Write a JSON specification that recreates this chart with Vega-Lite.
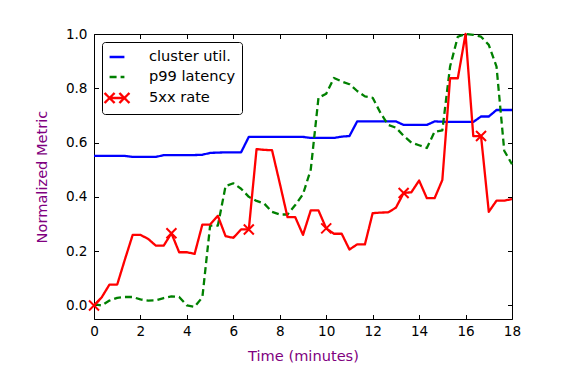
{
  "$schema": "https://vega.github.io/schema/vega-lite/v6.json",
  "width": 418,
  "height": 285,
  "autosize": {"type": "none"},
  "padding": {"left": 94, "top": 34, "right": 54, "bottom": 60},
  "background": "white",
  "config": {
    "font": "DejaVu Sans",
    "view": {"stroke": null},
    "axis": {
      "domainColor": "black", "domainWidth": 1, "tickColor": "black", "tickSize": -4.5, "tickWidth": 1,
      "labelFontSize": 13.6, "labelColor": "black", "labelFont": "DejaVu Sans", "labelFlush": false, "labelOverlap": false,
      "titleFont": "DejaVu Sans", "titleFontSize": 14.6, "titleColor": "#800080", "titleFontWeight": "normal", "grid": false
    },
    "axisBottom": {"labelPadding": 9.5, "titlePadding": 11},
    "axisLeft": {"labelPadding": 11.5, "titlePadding": 16},
    "legend": {
      "orient": "top-left", "offset": 8, "padding": 6, "strokeColor": "black", "strokeWidth": 1, "fillColor": "white",
      "cornerRadius": 3, "labelFontSize": 14.6, "labelFont": "DejaVu Sans", "labelColor": "black", "symbolSize": 220,
      "symbolStrokeWidth": 2.3, "symbolType": "stroke", "labelOffset": 23, "rowPadding": 4, "labelLimit": 300, "title": null
    }
  },
  "data": {"values": [
    {"t": 0, "u": 0.551, "p": 0.005, "r": 0.0, "m": 1},
    {"t": 0.3333, "u": 0.551, "p": 0.0, "r": 0.03},
    {"t": 0.6667, "u": 0.551, "p": 0.018, "r": 0.077},
    {"t": 1, "u": 0.551, "p": 0.028, "r": 0.077},
    {"t": 1.3333, "u": 0.551, "p": 0.031, "r": 0.17},
    {"t": 1.6667, "u": 0.547, "p": 0.031, "r": 0.26},
    {"t": 2, "u": 0.547, "p": 0.022, "r": 0.26},
    {"t": 2.3333, "u": 0.547, "p": 0.018, "r": 0.245},
    {"t": 2.6667, "u": 0.547, "p": 0.019, "r": 0.22},
    {"t": 3, "u": 0.554, "p": 0.027, "r": 0.22},
    {"t": 3.3333, "u": 0.554, "p": 0.033, "r": 0.266, "m": 1},
    {"t": 3.6667, "u": 0.554, "p": 0.031, "r": 0.196},
    {"t": 4, "u": 0.554, "p": 0.0, "r": 0.196},
    {"t": 4.3333, "u": 0.554, "p": -0.005, "r": 0.19},
    {"t": 4.6667, "u": 0.555, "p": 0.03, "r": 0.298},
    {"t": 5, "u": 0.562, "p": 0.294, "r": 0.298},
    {"t": 5.3333, "u": 0.563, "p": 0.294, "r": 0.33},
    {"t": 5.6667, "u": 0.564, "p": 0.44, "r": 0.255},
    {"t": 6, "u": 0.564, "p": 0.45, "r": 0.249},
    {"t": 6.3333, "u": 0.564, "p": 0.43, "r": 0.28},
    {"t": 6.6667, "u": 0.621, "p": 0.4, "r": 0.28, "m": 1},
    {"t": 7, "u": 0.621, "p": 0.385, "r": 0.576},
    {"t": 7.3333, "u": 0.621, "p": 0.375, "r": 0.573},
    {"t": 7.6667, "u": 0.621, "p": 0.345, "r": 0.572},
    {"t": 8, "u": 0.621, "p": 0.335, "r": 0.45},
    {"t": 8.3333, "u": 0.621, "p": 0.335, "r": 0.325},
    {"t": 8.6667, "u": 0.621, "p": 0.37, "r": 0.325},
    {"t": 9, "u": 0.621, "p": 0.41, "r": 0.26},
    {"t": 9.3333, "u": 0.617, "p": 0.5, "r": 0.35},
    {"t": 9.6667, "u": 0.617, "p": 0.765, "r": 0.35},
    {"t": 10, "u": 0.617, "p": 0.78, "r": 0.284, "m": 1},
    {"t": 10.3333, "u": 0.617, "p": 0.838, "r": 0.264},
    {"t": 10.6667, "u": 0.622, "p": 0.825, "r": 0.264},
    {"t": 11, "u": 0.624, "p": 0.815, "r": 0.206},
    {"t": 11.3333, "u": 0.678, "p": 0.79, "r": 0.225},
    {"t": 11.6667, "u": 0.678, "p": 0.77, "r": 0.225},
    {"t": 12, "u": 0.678, "p": 0.765, "r": 0.34},
    {"t": 12.3333, "u": 0.678, "p": 0.71, "r": 0.342},
    {"t": 12.6667, "u": 0.678, "p": 0.665, "r": 0.343},
    {"t": 13, "u": 0.678, "p": 0.655, "r": 0.36},
    {"t": 13.3333, "u": 0.665, "p": 0.625, "r": 0.414, "m": 1},
    {"t": 13.6667, "u": 0.665, "p": 0.6, "r": 0.417},
    {"t": 14, "u": 0.665, "p": 0.59, "r": 0.46},
    {"t": 14.3333, "u": 0.665, "p": 0.58, "r": 0.395},
    {"t": 14.6667, "u": 0.678, "p": 0.64, "r": 0.395},
    {"t": 15, "u": 0.677, "p": 0.645, "r": 0.462},
    {"t": 15.3333, "u": 0.676, "p": 0.88, "r": 0.837},
    {"t": 15.6667, "u": 0.676, "p": 0.99, "r": 0.837},
    {"t": 16, "u": 0.676, "p": 1.0, "r": 1.0},
    {"t": 16.3333, "u": 0.676, "p": 0.997, "r": 0.624},
    {"t": 16.6667, "u": 0.696, "p": 0.99, "r": 0.624, "m": 1},
    {"t": 17, "u": 0.696, "p": 0.96, "r": 0.345},
    {"t": 17.3333, "u": 0.72, "p": 0.88, "r": 0.386},
    {"t": 17.6667, "u": 0.72, "p": 0.57, "r": 0.386},
    {"t": 18, "u": 0.72, "p": 0.52, "r": 0.392}
  ]},
  "transform": [{"fold": ["u", "p", "r"], "as": ["s", "v"]}],
  "layer": [
    {
      "mark": {"type": "line", "strokeWidth": 2.3, "strokeCap": "butt", "strokeJoin": "round"},
      "encoding": {
        "x": {"field": "t", "type": "quantitative", "scale": {"domain": [0, 18], "nice": false, "zero": false},
              "axis": {"orient": "bottom", "values": [0, 2, 4, 6, 8, 10, 12, 14, 16, 18], "title": "Time (minutes)"}},
        "y": {"field": "v", "type": "quantitative", "scale": {"domain": [-0.05, 1.0], "nice": false, "zero": false},
              "axis": {"orient": "left", "values": [0, 0.2, 0.4, 0.6, 0.8, 1.0], "format": ".1f", "title": "Normalized Metric"}},
        "color": {"field": "s", "type": "nominal",
                  "scale": {"domain": ["u", "p", "r"], "range": ["#0000ff", "#008000", "#ff0000"]},
                  "legend": {"labelExpr": "datum.label === 'u' ? 'cluster util.' : datum.label === 'p' ? 'p99 latency' : '5xx rate'",
                             "encode": {"symbols": {"update": {"fill": {"value": "transparent"}, "shape": [{"test": "datum.value === 'r'", "value": "M-1,0L1,0M-1.68,-0.68L-0.32,0.68M-1.68,0.68L-0.32,-0.68M0.32,-0.68L1.68,0.68M0.32,0.68L1.68,-0.68"}, {"value": "stroke"}]}}}}},
        "strokeDash": {"field": "s", "type": "nominal",
                  "scale": {"domain": ["u", "p", "r"], "range": [[1, 0], [7, 4], [1, 0]]},
                  "legend": {"labelExpr": "datum.label === 'u' ? 'cluster util.' : datum.label === 'p' ? 'p99 latency' : '5xx rate'",
                             "encode": {"symbols": {"update": {"fill": {"value": "transparent"}, "shape": [{"test": "datum.value === 'r'", "value": "M-1,0L1,0M-1.68,-0.68L-0.32,0.68M-1.68,0.68L-0.32,-0.68M0.32,-0.68L1.68,0.68M0.32,0.68L1.68,-0.68"}, {"value": "stroke"}]}}}}}
      }
    },
    {
      "transform": [{"filter": "datum.s === 'r' && datum.m === 1"}],
      "mark": {"type": "point", "shape": "M-1,-1L1,1M-1,1L1,-1", "size": 100, "filled": false, "color": "#ff0000", "strokeWidth": 2, "opacity": 1},
      "encoding": {
        "x": {"field": "t", "type": "quantitative", "scale": {"domain": [0, 18], "nice": false, "zero": false},
              "axis": {"orient": "top", "labels": false, "title": null, "values": [0, 2, 4, 6, 8, 10, 12, 14, 16, 18]}},
        "y": {"field": "v", "type": "quantitative", "scale": {"domain": [-0.05, 1.0], "nice": false, "zero": false},
              "axis": {"orient": "right", "labels": false, "title": null, "values": [0, 0.2, 0.4, 0.6, 0.8, 1.0]}}
      }
    }
  ]
}
